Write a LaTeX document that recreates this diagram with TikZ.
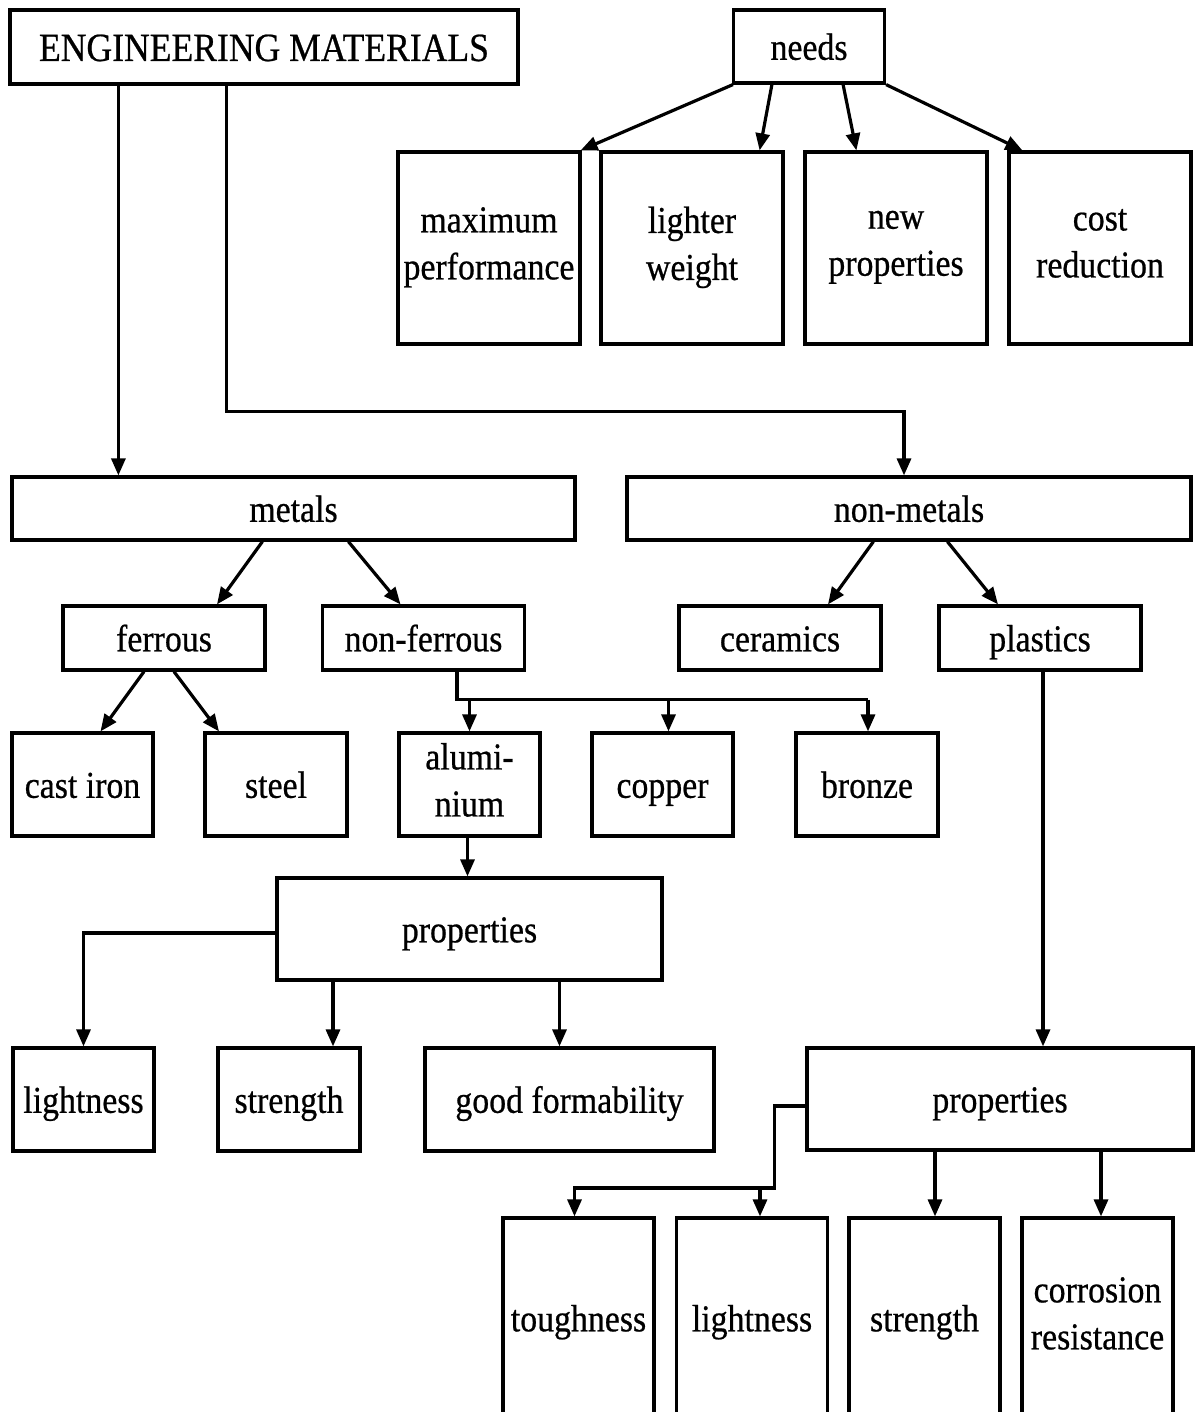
\documentclass[tikz,border=0pt]{standalone}
\usepackage{fontspec}
\setmainfont{Liberation Serif}[FakeStretch=0.89,FakeBold=0.6]
\usetikzlibrary{arrows.meta}
\newcommand\mystrut{\rule[-0.25em]{0pt}{1.2em}}
\begin{document}
\begin{tikzpicture}[x=1pt,y=-1pt,
  box/.style={draw,line width=3.2pt,inner sep=0pt,align=center,
    font=\fontsize{38}{47}\selectfont,
    execute at begin node={\mystrut},execute at end node={\mystrut}},
  line/.style={line width=3.2pt},
  arr/.style={line width=3.2pt,-{Triangle[length=17pt,width=14pt]}}]
\useasboundingbox (0,0) rectangle (1199,1412);
% top
\node[box,minimum width=508,minimum height=74,font=\fontsize{40}{47}\selectfont] (em) at (264,47) {ENGINEERING MATERIALS};
\node[box,minimum width=151,minimum height=73] (needs) at (809,46.5) {needs};
\node[box,minimum width=182,minimum height=192] (maxp) at (489,248) {maximum\\performance};
\node[box,minimum width=182,minimum height=192] (lightw) at (692,248) {lighter\\weight};
\node[box,minimum width=182,minimum height=192] (newp) at (896,248) {new\\properties};
\node[box,minimum width=182,minimum height=192] (cost) at (1100,248) {cost\\reduction};
% level 2
\node[box,minimum width=563,minimum height=63] (metals) at (293.5,508.5) {metals};
\node[box,minimum width=564,minimum height=63] (nonmetals) at (909,508.5) {non-metals};
% level 3
\node[box,minimum width=202,minimum height=64] (ferrous) at (164,638) {ferrous};
\node[box,minimum width=202,minimum height=64] (nonferrous) at (423.5,638) {non-ferrous};
\node[box,minimum width=202,minimum height=64] (ceramics) at (780,638) {ceramics};
\node[box,minimum width=202,minimum height=64] (plastics) at (1040,638) {plastics};
% level 4
\node[box,minimum width=141,minimum height=103] (castiron) at (82.5,784.5) {cast iron};
\node[box,minimum width=142,minimum height=103] (steel) at (276,784.5) {steel};
\node[box,minimum width=141,minimum height=103] (alu) at (469.5,784.5) {alumi-\\nium};
\node[box,minimum width=141,minimum height=103] (copper) at (662.5,784.5) {copper};
\node[box,minimum width=142,minimum height=103] (bronze) at (867,784.5) {bronze};
% properties 1
\node[box,minimum width=385,minimum height=102] (propa) at (469.5,929) {properties};
\node[box,minimum width=141,minimum height=103] (lightA) at (83.5,1099.5) {lightness};
\node[box,minimum width=142,minimum height=103] (strengthA) at (289,1099.5) {strength};
\node[box,minimum width=289,minimum height=103] (goodf) at (569.5,1099.5) {good formability};
% properties 2
\node[box,minimum width=386,minimum height=102] (propb) at (1000,1099) {properties};
\node[box,minimum width=151,minimum height=200] (tough) at (578.5,1318) {toughness};
\node[box,minimum width=151,minimum height=200] (lightB) at (752,1318) {lightness};
\node[box,minimum width=151,minimum height=200] (strengthB) at (924.5,1318) {strength};
\node[box,minimum width=151,minimum height=200] (corr) at (1097.5,1318) {corrosion\\resistance};
% connectors: engineering materials
\draw[arr] ([xshift=110pt]em.south west) -- ([xshift=110pt]em.south west |- metals.north);
\draw[arr] ([xshift=218pt]em.south west) -- ++(0,326) -| ([xshift=-5pt]nonmetals.north);
% needs
\draw[arr] ([xshift=1pt]needs.south west) -- ([xshift=-1pt]maxp.north east);
\draw[arr] ([xshift=40pt]needs.south west) -- ([xshift=-25pt]lightw.north east);
\draw[arr] ([xshift=-43pt]needs.south east) -- ([xshift=53pt]newp.north west);
\draw[arr] (needs.south east) -- ([xshift=15pt]cost.north west);
% metals / non-metals
\draw[arr] ([xshift=252pt]metals.south west) -- ([xshift=53pt]ferrous.north);
\draw[arr] ([xshift=338pt]metals.south west) -- ([xshift=-23pt]nonferrous.north);
\draw[arr] ([xshift=248pt]nonmetals.south west) -- ([xshift=48pt]ceramics.north);
\draw[arr] ([xshift=322pt]nonmetals.south west) -- ([xshift=-42pt]plastics.north);
% ferrous
\draw[arr] ([xshift=-20pt]ferrous.south) -- ([xshift=18pt]castiron.north);
\draw[arr] ([xshift=10pt]ferrous.south) -- ([xshift=-57pt]steel.north);
% non-ferrous bus
\coordinate (nfbus) at ([xshift=33.5pt,yshift=-28pt]nonferrous.south);
\draw[line] ([xshift=33.5pt]nonferrous.south) -- (nfbus) -- ([xshift=1pt]nfbus -| bronze.north);
\draw[arr] (nfbus -| alu.north) -- (alu.north);
\draw[arr] ([xshift=6pt]nfbus -| copper.north) -- ([xshift=6pt]copper.north);
\draw[arr] ([xshift=1pt]nfbus -| bronze.north) -- ([xshift=1pt]bronze.north);
% aluminium properties
\draw[arr] ([xshift=-2pt]alu.south) -- ([xshift=-2pt]propa.north);
\draw[arr] ([yshift=-4pt]propa.west) -| (lightA.north);
\draw[arr] ([xshift=44pt]strengthA.north |- propa.south) -- ([xshift=44pt]strengthA.north);
\draw[arr] ([xshift=-10pt]goodf.north |- propa.south) -- ([xshift=-10pt]goodf.north);
% plastics properties
\draw[arr] ([xshift=3pt]plastics.south) -- ([xshift=3pt]plastics.south |- propb.north);
\coordinate (pba) at ([xshift=-31pt,yshift=-7pt]propb.west);
\coordinate (pbb) at ([yshift=-82pt]pba);
\draw[arr] ([yshift=-7pt]propb.west) -- (pba) -- (pbb) -| ([xshift=-4pt]tough.north);
\draw[arr] ([xshift=8pt]lightB.north |- pbb) -- ([xshift=8pt]lightB.north);
\draw[arr] ([xshift=10.5pt]strengthB.north |- propb.south) -- ([xshift=10.5pt]strengthB.north);
\draw[arr] ([xshift=3.5pt]corr.north |- propb.south) -- ([xshift=3.5pt]corr.north);
\end{tikzpicture}
\end{document}
